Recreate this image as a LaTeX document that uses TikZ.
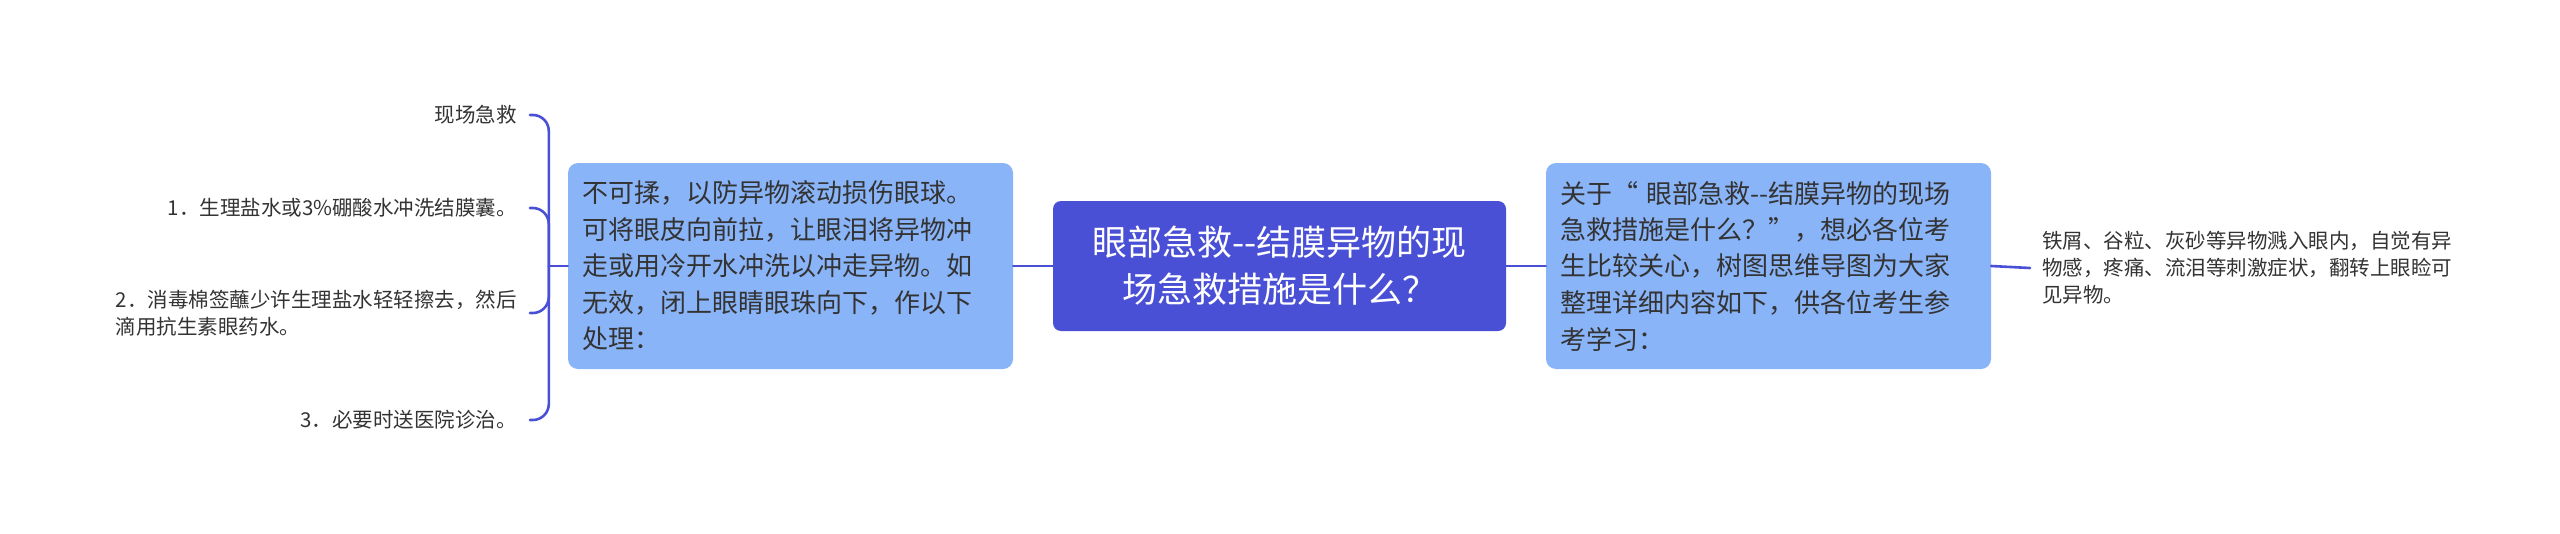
\documentclass[tikz,border=0pt]{standalone}
\usepackage{fontspec}
\setmainfont{Noto Sans CJK SC}
\definecolor{rootblue}{HTML}{4A50D5}
\definecolor{boxblue}{HTML}{8AB4F8}
\definecolor{linkblue}{HTML}{4A50D5}
\definecolor{txt}{HTML}{333333}
\tikzstyle{every node}=[font=\fontsize{20.5}{27}\selectfont,text=txt,inner sep=0pt]
\tikzstyle{link}=[line width=2.6pt,draw=linkblue,line cap=round,line join=round]
\tikzstyle{rootbox}=[fill=rootblue,rounded corners=8pt,minimum width=453pt,minimum height=130pt,align=center,text=white,font=\fontsize{35}{47}\selectfont]
\tikzstyle{subbox}=[fill=boxblue,rounded corners=10pt,minimum width=445pt,minimum height=206pt,text width=417pt,inner xsep=14pt,align=left,font=\fontsize{26}{36.5}\selectfont]
\tikzstyle{leaf}=[align=left]

\begin{document}
\begin{tikzpicture}[x=1pt,y=-1pt]
  \useasboundingbox (0,0) rectangle (2560,533);
  \node[rootbox] (root) at (1279.5,266) {眼部急救-{}-结膜异物的现\\场急救措施是什么？};
  \node[subbox] (note) at (790.5,266) {不可揉，以防异物滚动损伤眼球。\\可将眼皮向前拉，让眼泪将异物冲\\走或用冷开水冲洗以冲走异物。如\\无效，闭上眼睛眼珠向下，作以下\\处理：};
  \node[subbox] (intro) at (1768.5,266) {关于“ 眼部急救-{}-结膜异物的现场\\急救措施是什么？”，想必各位考\\生比较关心，树图思维导图为大家\\整理详细内容如下，供各位考生参\\考学习：};
  \node[leaf,anchor=west] (detail) at (2042,268) {铁屑、谷粒、灰砂等异物溅入眼内，自觉有异\\物感，疼痛、流泪等刺激症状，翻转上眼睑可\\见异物。};
  % left leaves
  \node[leaf,anchor=east] (c0) at (517,115) {现场急救};
  \node[leaf,anchor=east] (c1) at (517,208) {1．生理盐水或3\%硼酸水冲洗结膜囊。};
  \node[leaf,anchor=east] (c2) at (517,313) {2．消毒棉签蘸少许生理盐水轻轻擦去，然后\\滴用抗生素眼药水。};
  \node[leaf,anchor=east] (c3) at (517,420) {3．必要时送医院诊治。};

  \coordinate (lj) at ([xshift=-19pt]note.west);
  \draw[link] (note.east) -- (root.west);
  \draw[link] (root.east) -- (intro.west);
  \draw[link] (intro.east) -- ([xshift=-12pt]detail.west);
  \draw[link] (lj) -- (note.west);
  \foreach \c in {c0,c1,c2,c3}
    \draw[link,rounded corners=16pt] (lj) |- ([xshift=13pt]\c.east);
\end{tikzpicture}
\end{document}
